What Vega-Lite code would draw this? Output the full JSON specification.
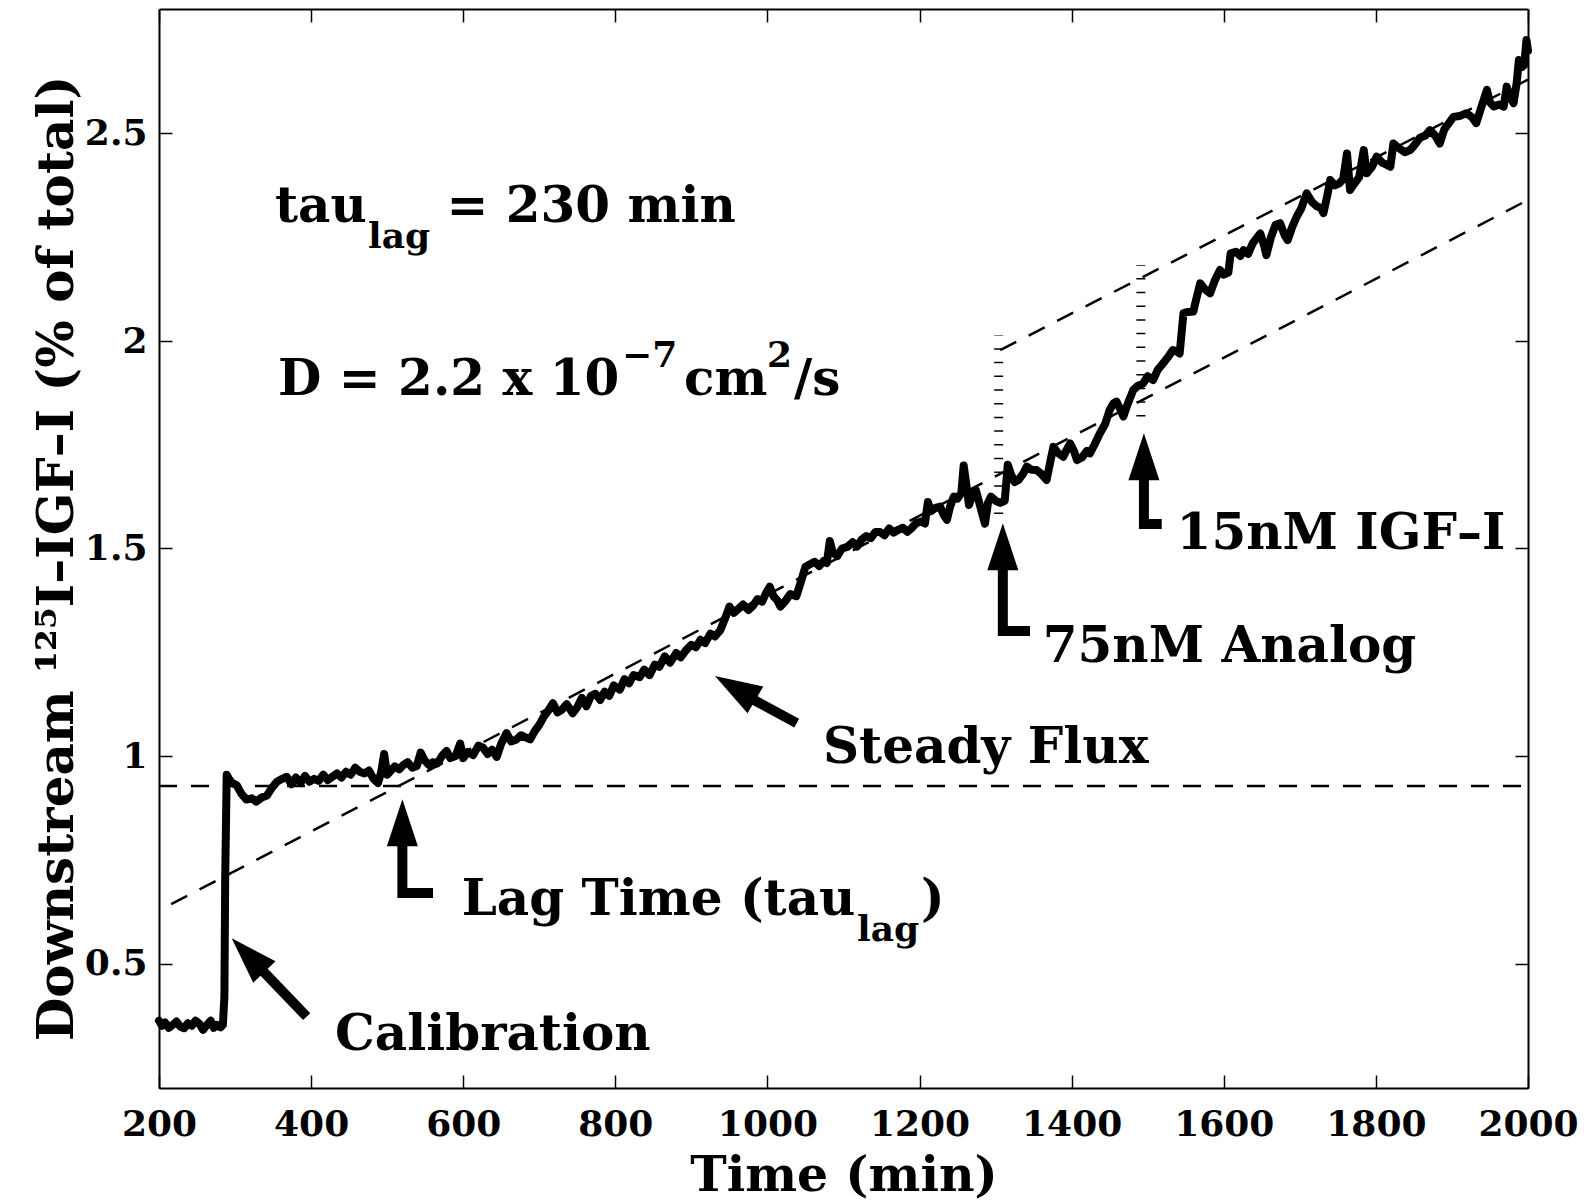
{
  "$schema": "https://vega.github.io/schema/vega-lite/v6.json",
  "autosize": {"type": "none"},
  "width": 1369,
  "height": 1079,
  "padding": {"left": 159, "top": 9, "right": 63, "bottom": 114},
  "background": "white",
  "config": {
    "font": "DejaVu Serif",
    "view": {"stroke": null},
    "axis": {
      "grid": false,
      "domainColor": "black",
      "domainWidth": 2,
      "tickColor": "black",
      "tickWidth": 1.5,
      "tickSize": -13,
      "labelColor": "black",
      "labelFont": "DejaVu Serif",
      "labelFontWeight": "bold",
      "labelFontSize": 36,
      "titleColor": "black",
      "titleFont": "DejaVu Serif",
      "titleFontWeight": "bold",
      "titleFontSize": 49,
      "labelFlush": false,
      "labelOverlap": false
    }
  },
  "datasets": {
    "curve": [
      {"t":200,"v":0.362},{"t":204,"v":0.350},{"t":208,"v":0.358},{"t":213,"v":0.345},{"t":218,"v":0.352},{"t":223,"v":0.360},{"t":228,"v":0.348},{"t":233,"v":0.344},{"t":238,"v":0.356},{"t":243,"v":0.350},{"t":248,"v":0.362},{"t":253,"v":0.355},{"t":258,"v":0.340},{"t":263,"v":0.352},{"t":268,"v":0.362},{"t":272,"v":0.345},{"t":276,"v":0.352},{"t":281,"v":0.346},{"t":284,"v":0.352},{"t":286,"v":0.42},{"t":287,"v":0.70},{"t":289,"v":0.955},{"t":292,"v":0.945},{"t":296,"v":0.935},{"t":302,"v":0.930},{"t":308,"v":0.910},{"t":315,"v":0.895},{"t":322,"v":0.898},{"t":328,"v":0.890},{"t":335,"v":0.900},{"t":342,"v":0.905},{"t":348,"v":0.922},{"t":355,"v":0.938},{"t":362,"v":0.945},{"t":368,"v":0.950},{"t":374,"v":0.932},{"t":380,"v":0.948},{"t":386,"v":0.935},{"t":392,"v":0.952},{"t":398,"v":0.938},{"t":404,"v":0.945},{"t":410,"v":0.940},{"t":416,"v":0.955},{"t":422,"v":0.942},{"t":428,"v":0.950},{"t":434,"v":0.958},{"t":440,"v":0.948},{"t":446,"v":0.962},{"t":452,"v":0.955},{"t":458,"v":0.972},{"t":464,"v":0.962},{"t":470,"v":0.958},{"t":476,"v":0.965},{"t":482,"v":0.945},{"t":488,"v":0.935},{"t":492,"v":0.960},{"t":496,"v":1.005},{"t":500,"v":0.955},{"t":505,"v":0.965},{"t":510,"v":0.975},{"t":516,"v":0.968},{"t":521,"v":0.978},{"t":527,"v":0.985},{"t":533,"v":0.972},{"t":539,"v":0.976},{"t":544,"v":1.008},{"t":549,"v":0.990},{"t":555,"v":0.978},{"t":560,"v":0.985},{"t":566,"v":0.982},{"t":572,"v":1.000},{"t":578,"v":1.012},{"t":583,"v":0.995},{"t":590,"v":1.000},{"t":596,"v":1.030},{"t":600,"v":0.995},{"t":606,"v":1.010},{"t":613,"v":1.002},{"t":620,"v":1.025},{"t":626,"v":1.020},{"t":632,"v":1.005},{"t":638,"v":1.015},{"t":644,"v":0.998},{"t":650,"v":1.030},{"t":657,"v":1.055},{"t":663,"v":1.035},{"t":670,"v":1.040},{"t":676,"v":1.050},{"t":682,"v":1.045},{"t":688,"v":1.040},{"t":694,"v":1.060},{"t":700,"v":1.075},{"t":706,"v":1.095},{"t":712,"v":1.110},{"t":718,"v":1.127},{"t":724,"v":1.105},{"t":730,"v":1.112},{"t":736,"v":1.125},{"t":744,"v":1.103},{"t":750,"v":1.118},{"t":756,"v":1.140},{"t":762,"v":1.120},{"t":768,"v":1.145},{"t":774,"v":1.150},{"t":780,"v":1.135},{"t":786,"v":1.155},{"t":792,"v":1.145},{"t":798,"v":1.170},{"t":806,"v":1.160},{"t":812,"v":1.185},{"t":818,"v":1.175},{"t":824,"v":1.195},{"t":832,"v":1.190},{"t":838,"v":1.208},{"t":845,"v":1.195},{"t":852,"v":1.220},{"t":858,"v":1.215},{"t":865,"v":1.240},{"t":872,"v":1.225},{"t":880,"v":1.248},{"t":886,"v":1.238},{"t":893,"v":1.255},{"t":900,"v":1.268},{"t":906,"v":1.262},{"t":912,"v":1.280},{"t":918,"v":1.272},{"t":925,"v":1.295},{"t":931,"v":1.288},{"t":938,"v":1.303},{"t":944,"v":1.330},{"t":950,"v":1.360},{"t":956,"v":1.345},{"t":962,"v":1.355},{"t":968,"v":1.365},{"t":975,"v":1.352},{"t":981,"v":1.362},{"t":987,"v":1.378},{"t":993,"v":1.372},{"t":998,"v":1.392},{"t":1003,"v":1.408},{"t":1008,"v":1.385},{"t":1013,"v":1.375},{"t":1017,"v":1.360},{"t":1023,"v":1.372},{"t":1030,"v":1.390},{"t":1038,"v":1.385},{"t":1044,"v":1.420},{"t":1050,"v":1.456},{"t":1056,"v":1.462},{"t":1062,"v":1.468},{"t":1068,"v":1.458},{"t":1074,"v":1.470},{"t":1078,"v":1.465},{"t":1082,"v":1.518},{"t":1086,"v":1.490},{"t":1092,"v":1.482},{"t":1098,"v":1.500},{"t":1105,"v":1.504},{"t":1112,"v":1.515},{"t":1118,"v":1.505},{"t":1124,"v":1.522},{"t":1130,"v":1.530},{"t":1136,"v":1.525},{"t":1142,"v":1.540},{"t":1148,"v":1.540},{"t":1154,"v":1.532},{"t":1160,"v":1.548},{"t":1166,"v":1.538},{"t":1172,"v":1.545},{"t":1178,"v":1.550},{"t":1184,"v":1.540},{"t":1190,"v":1.550},{"t":1196,"v":1.562},{"t":1202,"v":1.565},{"t":1207,"v":1.560},{"t":1211,"v":1.612},{"t":1215,"v":1.590},{"t":1221,"v":1.598},{"t":1227,"v":1.601},{"t":1232,"v":1.580},{"t":1236,"v":1.569},{"t":1240,"v":1.600},{"t":1245,"v":1.625},{"t":1250,"v":1.620},{"t":1255,"v":1.635},{"t":1258,"v":1.700},{"t":1261,"v":1.660},{"t":1265,"v":1.605},{"t":1270,"v":1.630},{"t":1274,"v":1.641},{"t":1280,"v":1.600},{"t":1286,"v":1.560},{"t":1290,"v":1.610},{"t":1294,"v":1.625},{"t":1300,"v":1.615},{"t":1306,"v":1.610},{"t":1312,"v":1.615},{"t":1316,"v":1.702},{"t":1320,"v":1.680},{"t":1325,"v":1.660},{"t":1330,"v":1.665},{"t":1336,"v":1.680},{"t":1341,"v":1.697},{"t":1347,"v":1.690},{"t":1354,"v":1.689},{"t":1360,"v":1.680},{"t":1367,"v":1.665},{"t":1372,"v":1.710},{"t":1376,"v":1.745},{"t":1382,"v":1.730},{"t":1389,"v":1.721},{"t":1394,"v":1.740},{"t":1398,"v":1.753},{"t":1403,"v":1.735},{"t":1407,"v":1.713},{"t":1414,"v":1.720},{"t":1420,"v":1.735},{"t":1424,"v":1.729},{"t":1430,"v":1.750},{"t":1437,"v":1.777},{"t":1444,"v":1.800},{"t":1450,"v":1.834},{"t":1455,"v":1.850},{"t":1459,"v":1.854},{"t":1464,"v":1.835},{"t":1468,"v":1.818},{"t":1474,"v":1.850},{"t":1481,"v":1.882},{"t":1487,"v":1.892},{"t":1494,"v":1.898},{"t":1500,"v":1.915},{"t":1507,"v":1.906},{"t":1513,"v":1.930},{"t":1520,"v":1.946},{"t":1527,"v":1.962},{"t":1533,"v":1.978},{"t":1538,"v":1.975},{"t":1542,"v":1.970},{"t":1547,"v":2.067},{"t":1553,"v":2.070},{"t":1560,"v":2.071},{"t":1565,"v":2.110},{"t":1569,"v":2.139},{"t":1575,"v":2.125},{"t":1582,"v":2.115},{"t":1588,"v":2.145},{"t":1595,"v":2.171},{"t":1600,"v":2.160},{"t":1606,"v":2.165},{"t":1609,"v":2.211},{"t":1616,"v":2.215},{"t":1622,"v":2.205},{"t":1626,"v":2.219},{"t":1632,"v":2.210},{"t":1638,"v":2.235},{"t":1644,"v":2.250},{"t":1648,"v":2.259},{"t":1653,"v":2.230},{"t":1656,"v":2.207},{"t":1662,"v":2.250},{"t":1668,"v":2.280},{"t":1674,"v":2.284},{"t":1680,"v":2.255},{"t":1684,"v":2.243},{"t":1690,"v":2.275},{"t":1696,"v":2.300},{"t":1702,"v":2.320},{"t":1709,"v":2.356},{"t":1716,"v":2.335},{"t":1722,"v":2.325},{"t":1728,"v":2.320},{"t":1731,"v":2.308},{"t":1736,"v":2.350},{"t":1740,"v":2.388},{"t":1746,"v":2.375},{"t":1752,"v":2.380},{"t":1757,"v":2.390},{"t":1762,"v":2.452},{"t":1766,"v":2.364},{"t":1772,"v":2.380},{"t":1778,"v":2.395},{"t":1784,"v":2.460},{"t":1788,"v":2.404},{"t":1795,"v":2.420},{"t":1801,"v":2.444},{"t":1808,"v":2.430},{"t":1814,"v":2.425},{"t":1819,"v":2.420},{"t":1823,"v":2.476},{"t":1830,"v":2.465},{"t":1838,"v":2.455},{"t":1845,"v":2.460},{"t":1852,"v":2.475},{"t":1858,"v":2.490},{"t":1865,"v":2.495},{"t":1871,"v":2.508},{"t":1878,"v":2.495},{"t":1884,"v":2.476},{"t":1890,"v":2.510},{"t":1896,"v":2.525},{"t":1902,"v":2.540},{"t":1910,"v":2.542},{"t":1919,"v":2.549},{"t":1926,"v":2.540},{"t":1932,"v":2.525},{"t":1938,"v":2.560},{"t":1946,"v":2.605},{"t":1950,"v":2.575},{"t":1955,"v":2.565},{"t":1962,"v":2.570},{"t":1968,"v":2.565},{"t":1972,"v":2.613},{"t":1976,"v":2.590},{"t":1981,"v":2.573},{"t":1985,"v":2.620},{"t":1988,"v":2.677},{"t":1992,"v":2.660},{"t":1995,"v":2.665},{"t":1998,"v":2.725},{"t":2000,"v":2.700}
    ],
    "fits": [
      {"id":"baseline","t":200,"v":0.928},{"id":"baseline","t":2000,"v":0.928},
      {"id":"steady","t":216,"v":0.643},{"id":"steady","t":2000,"v":2.340},
      {"id":"shifted","t":1306,"v":1.978},{"id":"shifted","t":2000,"v":2.630}
    ],
    "markers": [
      {"t":1304,"v":1.583,"v2":2.013},
      {"t":1491,"v":1.818,"v2":2.183}
    ],
    "shafts": [
      {"arrow":"calibration","o":1,"t":394.2,"v":0.372},{"arrow":"calibration","o":2,"t":331.9,"v":0.491},
      {"arrow":"steady","o":1,"t":1038.5,"v":1.079},{"arrow":"steady","o":2,"t":976.3,"v":1.141},
      {"arrow":"lag","o":1,"t":520,"v":0.798},{"arrow":"lag","o":2,"t":520,"v":0.670},{"arrow":"lag","o":3,"t":560.3,"v":0.670},
      {"arrow":"analog","o":1,"t":1309.5,"v":1.460},{"arrow":"analog","o":2,"t":1309.5,"v":1.301},{"arrow":"analog","o":3,"t":1345.2,"v":1.301},
      {"arrow":"igf","o":1,"t":1495,"v":1.677},{"arrow":"igf","o":2,"t":1495,"v":1.559},{"arrow":"igf","o":3,"t":1518.4,"v":1.559}
    ],
    "headsUp": [
      {"arrow":"lag","t":520,"v":0.896},
      {"arrow":"analog","t":1309.5,"v":1.561},
      {"arrow":"igf","t":1495,"v":1.778}
    ],
    "headCal": [{"arrow":"calibration","t":295.6,"v":0.561}],
    "headSteady": [{"arrow":"steady","t":931.0,"v":1.193}],
    "labels": [
      {"text":"tau","t":352.5,"v":2.287},
      {"text":"= 230 min","t":578,"v":2.287},
      {"text":"D = 2.2 x 10","t":356.5,"v":1.870},
      {"text":"cm","t":890.2,"v":1.870},
      {"text":"/s","t":1034.9,"v":1.870},
      {"text":"Steady Flux","t":1073,"v":0.983},
      {"text":"75nM Analog","t":1362,"v":1.227},
      {"text":"15nM IGF–I","t":1538,"v":1.500},
      {"text":"Lag Time (tau","t":598,"v":0.617},
      {"text":")","t":1201.9,"v":0.617},
      {"text":"Calibration","t":431.4,"v":0.292}
    ],
    "scripts": [
      {"text":"lag","t":474.8,"v":2.224},
      {"text":"−7","t":808.8,"v":1.937},
      {"text":"2","t":999.4,"v":1.937},
      {"text":"lag","t":1117.8,"v":0.554}
    ]
  },
  "resolve": {"axis": {"x": "independent", "y": "independent"}},
  "layer": [
    {
      "data": {"name": "fits"},
      "mark": {"type": "line", "color": "black", "strokeWidth": 2.5, "strokeDash": [18, 14]},
      "encoding": {
        "x": {"field": "t", "type": "quantitative", "scale": {"domain": [200, 2000], "nice": false, "zero": false},
              "axis": {"orient": "top", "labels": false, "title": null, "values": [200,400,600,800,1000,1200,1400,1600,1800,2000]}},
        "y": {"field": "v", "type": "quantitative", "scale": {"domain": [0.2, 2.8], "nice": false, "zero": false},
              "axis": {"orient": "right", "labels": false, "title": null, "values": [0.5,1,1.5,2,2.5]}},
        "detail": {"field": "id"}
      }
    },
    {
      "data": {"name": "markers"},
      "mark": {"type": "rule", "color": "black", "strokeWidth": 9, "strokeDash": [1.5, 12.2], "strokeCap": "butt"},
      "encoding": {
        "x": {"field": "t", "type": "quantitative", "axis": null},
        "y": {"field": "v", "type": "quantitative", "axis": null},
        "y2": {"field": "v2"}
      }
    },
    {
      "data": {"name": "curve"},
      "mark": {"type": "line", "color": "black", "strokeWidth": 8, "strokeJoin": "round", "strokeCap": "round"},
      "encoding": {
        "x": {"field": "t", "type": "quantitative",
              "axis": {"orient": "bottom", "values": [200,400,600,800,1000,1200,1400,1600,1800,2000], "format": "d",
                       "labelPadding": 32, "title": "Time (min)", "titleX": 684.5, "titleY": 102, "titleBaseline": "alphabetic", "titleAlign": "center"}},
        "y": {"field": "v", "type": "quantitative",
              "axis": {"orient": "left", "values": [0.5,1,1.5,2,2.5], "format": "~g", "labelPadding": 25,
                       "title": "Downstream ¹²⁵I–IGF–I (% of total)", "titleFontSize": 50, "titleAngle": 270, "titleX": -87, "titleY": 549, "titleBaseline": "alphabetic", "titleAlign": "center"}}
      }
    },
    {
      "data": {"name": "shafts"},
      "mark": {"type": "line", "color": "black", "strokeWidth": 10, "strokeCap": "butt", "strokeJoin": "miter"},
      "encoding": {
        "x": {"field": "t", "type": "quantitative", "axis": null},
        "y": {"field": "v", "type": "quantitative", "axis": null},
        "detail": {"field": "arrow"},
        "order": {"field": "o"}
      }
    },
    {
      "data": {"name": "headsUp"},
      "mark": {"type": "point", "shape": "M0,0L0.66,2L-0.66,2Z", "size": 2209, "filled": true, "color": "black", "opacity": 1, "angle": 0},
      "encoding": {
        "x": {"field": "t", "type": "quantitative", "axis": null},
        "y": {"field": "v", "type": "quantitative", "axis": null}
      }
    },
    {
      "data": {"name": "headCal"},
      "mark": {"type": "point", "shape": "M0,0L0.66,2L-0.66,2Z", "size": 2209, "filled": true, "color": "black", "opacity": 1, "angle": 316},
      "encoding": {
        "x": {"field": "t", "type": "quantitative", "axis": null},
        "y": {"field": "v", "type": "quantitative", "axis": null}
      }
    },
    {
      "data": {"name": "headSteady"},
      "mark": {"type": "point", "shape": "M0,0L0.66,2L-0.66,2Z", "size": 2209, "filled": true, "color": "black", "opacity": 1, "angle": 300.6},
      "encoding": {
        "x": {"field": "t", "type": "quantitative", "axis": null},
        "y": {"field": "v", "type": "quantitative", "axis": null}
      }
    },
    {
      "data": {"name": "labels"},
      "mark": {"type": "text", "font": "DejaVu Serif", "fontWeight": "bold", "fontSize": 50, "align": "left", "baseline": "alphabetic", "color": "black"},
      "encoding": {
        "x": {"field": "t", "type": "quantitative", "axis": null},
        "y": {"field": "v", "type": "quantitative", "axis": null},
        "text": {"field": "text"}
      }
    },
    {
      "data": {"name": "scripts"},
      "mark": {"type": "text", "font": "DejaVu Serif", "fontWeight": "bold", "fontSize": 36, "align": "left", "baseline": "alphabetic", "color": "black"},
      "encoding": {
        "x": {"field": "t", "type": "quantitative", "axis": null},
        "y": {"field": "v", "type": "quantitative", "axis": null},
        "text": {"field": "text"}
      }
    }
  ]
}
